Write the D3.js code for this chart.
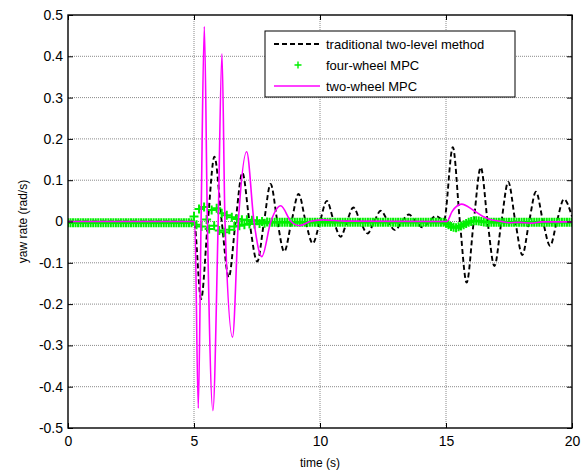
<!DOCTYPE html>
<html>
<head>
<meta charset="utf-8">
<script src="https://cdn.jsdelivr.net/npm/d3@7"></script>
<style>
  body { margin: 0; background: #fff; }
  svg text { font-family: "Liberation Sans", Arial, sans-serif; fill: #000; }
</style>
</head>
<body>
<div id="chart-area"></div>
<script>
// ticks
const xTicks = [0, 5, 10, 15, 20];
const yTicks = [-0.5, -0.4, -0.3, -0.2, -0.1, 0, 0.1, 0.2, 0.3, 0.4, 0.5];

// traditional two-level method (read at extrema / crossings)
const tradT = [0, 5.0, 5.28, 5.55, 5.81, 6.1, 6.38, 6.65, 6.92, 7.2, 7.51, 7.78, 8.04, 8.31, 8.58, 8.87,
  9.15, 9.43, 9.71, 10.0, 10.27, 10.55, 10.82, 11.07, 11.32, 11.6, 11.89, 12.15, 12.41, 12.7, 12.98,
  13.25, 13.53, 13.8, 14.07, 14.33, 14.6, 14.92, 15.27, 15.55, 15.82, 16.1, 16.38, 16.65, 16.92, 17.2,
  17.47, 17.75, 18.03, 18.3, 18.57, 18.85, 19.13, 19.4, 19.68, 20];
const tradV = [0, 0, -0.188, 0, 0.157, 0, -0.135, 0, 0.118, 0, -0.097, 0, 0.091, 0, -0.073, 0,
  0.067, 0, -0.053, 0, 0.050, 0, -0.037, 0, 0.034, 0, -0.029, 0, 0.026, 0, -0.021,
  0, 0.017, 0, -0.014, 0, 0.013, 0.003, 0.180, 0, -0.148, 0, 0.131, 0, -0.108, 0,
  0.096, 0, -0.081, 0, 0.072, 0, -0.059, 0, 0.054, 0.012];

// two-wheel MPC
const twoT = [0, 5.03, 5.17, 5.28, 5.41, 5.53, 5.75, 5.96, 6.11, 6.23, 6.53, 6.76, 7.09, 7.38, 7.69,
  8.05, 8.44, 8.85, 9.18, 9.6, 10.1, 11.0, 15.03, 15.24, 15.62, 16.07, 16.47, 16.75, 17.2, 17.5,
  17.9, 18.4, 18.8, 20];
const twoV = [0, 0, -0.452, 0, 0.472, 0, -0.458, 0, 0.406, 0, -0.280, 0, 0.169, 0, -0.085,
  0, 0.038, 0, -0.010, 0, 0.004, 0.001, 0, 0.024, 0.042, 0.028, 0.012, 0.005, 0, -0.003,
  -0.002, -0.004, -0.001, -0.001];

// four-wheel MPC, one value every 0.1 s from 0 to 20
const fourStep = 0.1;
const fourV = [
  -0.003, -0.003, -0.003, -0.003, -0.003, -0.003, -0.003, -0.003, -0.003, -0.003,
  -0.003, -0.003, -0.003, -0.003, -0.003, -0.003, -0.003, -0.003, -0.003, -0.003,
  -0.003, -0.003, -0.003, -0.003, -0.003, -0.003, -0.003, -0.003, -0.003, -0.003,
  -0.003, -0.003, -0.003, -0.003, -0.003, -0.003, -0.003, -0.003, -0.003, -0.003,
  -0.003, -0.003, -0.003, -0.003, -0.003, -0.003, -0.003, -0.003, -0.003, -0.003,
  0.012, -0.008, 0.030, -0.012, 0.035, 0.005, -0.018, 0.028, -0.010, 0.032,
  -0.022, 0.020, -0.026, 0.015, -0.020, 0.010, -0.012, 0.006, -0.010, 0.004,
  -0.008, 0.004, -0.006, 0.003, -0.006, 0.002, -0.005, 0.000, -0.004, -0.001,
  -0.002, -0.002, -0.002, -0.002, -0.002, -0.002, -0.002, -0.002, -0.002, -0.002,
  -0.002, -0.002, -0.002, -0.002, -0.002, -0.002, -0.002, -0.002, -0.002, -0.002,
  -0.002, -0.002, -0.002, -0.002, -0.002, -0.002, -0.002, -0.002, -0.002, -0.002,
  -0.002, -0.002, -0.002, -0.002, -0.002, -0.002, -0.002, -0.002, -0.002, -0.002,
  -0.002, -0.002, -0.002, -0.002, -0.002, -0.002, -0.002, -0.002, -0.002, -0.002,
  -0.002, -0.002, -0.002, -0.002, -0.002, -0.002, -0.002, -0.002, -0.002, -0.002,
  -0.002, -0.002, -0.002, -0.002, -0.002, -0.002, -0.002, -0.002, -0.002, -0.002,
  -0.004, -0.008, -0.012, -0.014, -0.015, -0.013, -0.011, -0.008, -0.005, -0.002,
  0.000, 0.002, 0.002, 0.001, 0.000, -0.001, -0.002, -0.002, -0.002, -0.002,
  -0.002, -0.002, -0.002, -0.002, -0.002, -0.002, -0.002, -0.002, -0.002, -0.002,
  -0.002, -0.002, -0.002, -0.002, -0.002, -0.002, -0.002, -0.002, -0.002, -0.002,
  -0.002, -0.002, -0.002, -0.002, -0.002, -0.002, -0.002, -0.002, -0.002, -0.002,
  -0.002
];

const legendLabels = ['traditional two-level method', 'four-wheel MPC', 'two-wheel MPC'];

const margin = { top: 15, right: 14, bottom: 44, left: 68 };
const width = 586 - margin.left - margin.right;
const height = 472 - margin.top - margin.bottom;

const svg = d3.select('#chart-area')
  .append('svg')
    .attr('width', 586)
    .attr('height', 472);

const g = svg.append('g')
  .attr('transform', `translate(${margin.left},${margin.top})`);

const x = d3.scaleLinear().domain([0, 20]).range([0, width]);
const y = d3.scaleLinear().domain([-0.5, 0.5]).range([height, 0]);

// grid
const gridColor = '#8a8a8a';
g.append('g').selectAll('line')
  .data(xTicks.filter(d => d > 0 && d < 20))
  .join('line')
    .attr('x1', d => x(d)).attr('x2', d => x(d))
    .attr('y1', 0).attr('y2', height)
    .attr('stroke', gridColor)
    .attr('stroke-dasharray', '1,1');
g.append('g').selectAll('line')
  .data(yTicks.filter(d => d > -0.5 && d < 0.5))
  .join('line')
    .attr('y1', d => y(d)).attr('y2', d => y(d))
    .attr('x1', 0).attr('x2', width)
    .attr('stroke', gridColor)
    .attr('stroke-dasharray', '1,1');

// clip
svg.append('defs').append('clipPath').attr('id', 'plot-clip')
  .append('rect').attr('width', width).attr('height', height);
const plot = g.append('g').attr('clip-path', 'url(#plot-clip)');

const line = d3.line()
  .x(d => x(d[0]))
  .y(d => y(d[1]))
  .curve(d3.curveMonotoneX);

// traditional
plot.append('path')
  .datum(tradT.map((t, i) => [t, tradV[i]]))
  .attr('fill', 'none')
  .attr('stroke', '#000')
  .attr('stroke-width', 1.9)
  .attr('stroke-dasharray', '5,3')
  .attr('d', line);

// four-wheel markers
const plusPath = 'M-4.5,0H4.5M0,-4.5V4.5';
plot.append('g').selectAll('path')
  .data(fourV.map((v, i) => [i * fourStep, v]))
  .join('path')
    .attr('transform', d => `translate(${x(d[0])},${y(d[1])})`)
    .attr('d', plusPath)
    .attr('stroke', '#00f000')
    .attr('stroke-width', 2)
    .attr('fill', 'none');

// two-wheel
plot.append('path')
  .datum(twoT.map((t, i) => [t, twoV[i]]))
  .attr('fill', 'none')
  .attr('stroke', '#ff00ff')
  .attr('stroke-width', 1.6)
  .attr('d', line);

// axes with inside ticks
const fmtY = d => d === 0 ? '0' : d.toFixed(1);
g.append('g')
  .attr('transform', `translate(0,${height})`)
  .call(d3.axisBottom(x).tickValues(xTicks).tickSizeInner(-5).tickSizeOuter(0).tickPadding(8));
g.append('g')
  .call(d3.axisLeft(y).tickValues(yTicks).tickFormat(fmtY).tickSizeInner(-5).tickSizeOuter(0).tickPadding(5));
g.append('g')
  .call(d3.axisTop(x).tickValues(xTicks).tickSizeInner(-5).tickSizeOuter(0).tickFormat(''));
g.append('g')
  .attr('transform', `translate(${width},0)`)
  .call(d3.axisRight(y).tickValues(yTicks).tickSizeInner(-5).tickSizeOuter(0).tickFormat(''));

g.selectAll('.domain').remove();
g.selectAll('.tick line').attr('stroke', '#000');
g.selectAll('.tick text')
  .attr('font-size', 14)
  .attr('fill', '#000')
  .style('font-family', '"Liberation Sans", Arial, sans-serif');

g.append('rect')
  .attr('width', width)
  .attr('height', height)
  .attr('fill', 'none')
  .attr('stroke', '#000')
  .attr('stroke-width', 1.4);

// axis labels
svg.append('text')
  .attr('x', margin.left + width / 2)
  .attr('y', 467)
  .attr('text-anchor', 'middle')
  .attr('font-size', 12)
  .text('time (s)');

svg.append('text')
  .attr('transform', `translate(27,${margin.top + height / 2}) rotate(-90)`)
  .attr('text-anchor', 'middle')
  .attr('font-size', 12)
  .text('yaw rate  (rad/s)');

// legend
const legend = svg.append('g').attr('transform', 'translate(265,31)');
legend.append('rect')
  .attr('width', 250)
  .attr('height', 66)
  .attr('fill', '#fff')
  .attr('stroke', '#000')
  .attr('stroke-width', 1);

legendLabels.forEach((lab, i) => {
  const row = legend.append('g').attr('transform', `translate(0,${13 + i * 21})`);
  if (i === 0) {
    row.append('line').attr('x1', 9).attr('x2', 55)
      .attr('stroke', '#000').attr('stroke-width', 1.8).attr('stroke-dasharray', '5,3');
  } else if (i === 1) {
    row.append('path').attr('transform', 'translate(33,0)').attr('d', 'M-3.5,0H3.5M0,-3.5V3.5')
      .attr('stroke', '#00f000').attr('stroke-width', 1.4);
  } else {
    row.append('line').attr('x1', 9).attr('x2', 55)
      .attr('stroke', '#ff00ff').attr('stroke-width', 1.6);
  }
  row.append('text')
    .attr('x', 61)
    .attr('y', 5)
    .attr('font-size', 13)
    .text(lab);
});
</script>
</body>
</html>
